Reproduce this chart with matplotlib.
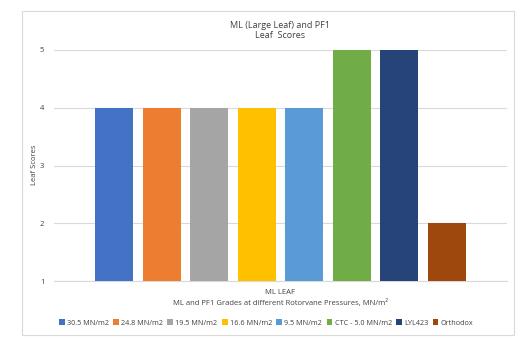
import numpy as np
import matplotlib.pyplot as plt
from matplotlib.patches import Rectangle

# Datos
series = ['30.5 MN/m2', '24.8 MN/m2', '19.5 MN/m2', '16.6 MN/m2',
          '9.5 MN/m2', 'CTC - 5.0 MN/m2', 'LYL423', 'Orthodox']
scores = [4, 4, 4, 4, 4, 5, 5, 2]
colores = ['#4472C4', '#ED7D31', '#A5A5A5', '#FFC000',
           '#5B9BD5', '#70AD47', '#264478', '#9E480E']
yticks = [1, 2, 3, 4, 5]

plt.rcParams['font.family'] = ['Open Sans', 'DejaVu Sans']

W, H = 528, 338
fig = plt.figure(figsize=(W / 100, H / 100), dpi=100)

# Marco exterior del grafico
fig.patches.append(Rectangle((22 / W, 1 - 335 / H), (514 - 22) / W, (335 - 11) / H,
                             transform=fig.transFigure, fill=False,
                             edgecolor='#D9D9D9', linewidth=0.8))

ax = fig.add_axes([54 / W, 1 - 281 / H, (507 - 54) / W, (281 - 50) / H])

x = np.arange(len(series))
barras = ax.bar(x, [s - 1 for s in scores], bottom=1, width=0.8, color=colores, zorder=3)

ax.set_xlim(-1.26, len(series) - 1 + 1.26)
ax.set_ylim(1, 5)
ax.set_yticks(yticks)
ax.set_yticklabels([str(t) for t in yticks], fontsize=5.5, color='#404040')
ax.tick_params(axis='y', length=0, pad=7)
ax.set_xticks([])
ax.grid(axis='y', color='#D9D9D9', linewidth=0.8, zorder=0)
for lado in ['top', 'right', 'left']:
    ax.spines[lado].set_visible(False)
ax.spines['bottom'].set_color('#D9D9D9')
ax.spines['bottom'].set_linewidth(0.8)

fig.text(34 / W, 1 - 165 / H, 'Leaf Scores', ha='center', va='center', rotation=90,
         fontsize=5.5, color='#404040')

fig.text(280 / W, 1 - 26 / H, 'ML (Large Leaf) and PF1', ha='center', va='center',
         fontsize=6.5, color='#404040')
fig.text(280 / W, 1 - 35 / H, 'Leaf  Scores', ha='center', va='center',
         fontsize=6.5, color='#404040')

fig.text(280 / W, 1 - 292 / H, 'ML LEAF', ha='center', va='center',
         fontsize=5.5, color='#404040')
fig.text(280 / W, 1 - 303 / H, 'ML and PF1 Grades at different Rotorvane Pressures, MN/m²',
         ha='center', va='center', fontsize=5.5, color='#404040')

fig.legend(barras, series, loc='center', bbox_to_anchor=(266 / W, 1 - 323 / H),
           ncol=len(series), fontsize=5.2, frameon=False, handlelength=0.8,
           handleheight=0.8, handletextpad=0.3, columnspacing=0.6,
           labelcolor='#404040')

plt.savefig('out.png', dpi=100)
